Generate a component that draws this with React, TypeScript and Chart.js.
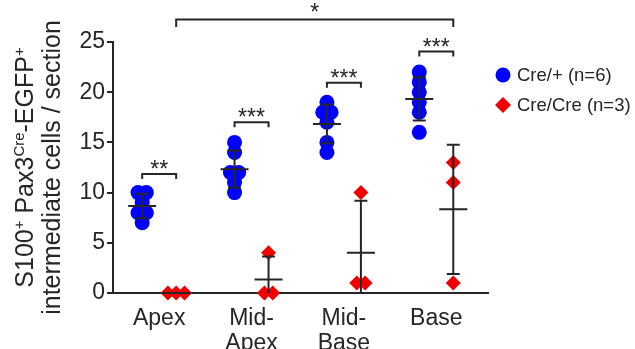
import React, { useEffect, useRef } from 'react';
import { Chart, registerables } from 'chart.js';

Chart.register(...registerables);

// ---------- data ----------
const categories = ['Apex', 'Mid-Apex', 'Mid-Base', 'Base'];
const creHetValues = [
  [10, 10, 9, 8, 8, 7],
  [15, 14, 12, 12, 11, 10],
  [19, 18, 18, 17, 15, 14],
  [22, 21, 20, 19, 18, 16],
];
const creHomValues = [
  [0, 0, 0],
  [4, 0, 0],
  [10, 1, 1],
  [13, 11, 1],
];
const seriesLabels = ['Cre/+ (n=6)', 'Cre/Cre (n=3)'];
const yTicks = [0, 5, 10, 15, 20, 25];
const pairStars = ['**', '***', '***', '***'];
const pairBracketY = [11.85, 17, 20.95, 24.05];
const overallStar = '*';
const overallBracketY = 27.25;
const yTitleLine1 = [
  { t: 'S100', sup: false },
  { t: '+', sup: true },
  { t: ' Pax3', sup: false },
  { t: 'Cre', sup: true },
  { t: '-EGFP', sup: false },
  { t: '+', sup: true },
];
const yTitleLine2 = 'intermediate cells / section';

// ---------- style ----------
const BLUE = 'rgb(0,0,255)';
const RED = 'rgb(240,0,0)';
const INK = '#262626';
const FONT = "'Liberation Sans', Arial, sans-serif";
const GROUP_OFFSET = 0.184;
const SWARM_STEP = 0.09;

function swarm(values: number[], catIndex: number, offset: number) {
  return values.map((v, k) => {
    const same = values.map((w, j) => ({ w, j })).filter((o) => o.w === v);
    const n = same.length;
    const pos = same.findIndex((o) => o.j === k);
    return { x: catIndex + 1 + offset + (pos - (n - 1) / 2) * SWARM_STEP, y: v };
  });
}

function meanSd(values: number[]) {
  const m = values.reduce((a, b) => a + b, 0) / values.length;
  const v = values.reduce((a, b) => a + (b - m) * (b - m), 0) / (values.length - 1);
  return { m, sd: Math.sqrt(v) };
}

const errorBarPlugin = {
  id: 'errorBars',
  afterDatasetsDraw(chart: any) {
    const { ctx, scales } = chart;
    const xs = scales.x, ys = scales.y;
    ctx.save();
    ctx.strokeStyle = INK;
    ctx.lineWidth = 2;
    const groups = [
      { vals: creHetValues, off: -GROUP_OFFSET },
      { vals: creHomValues, off: GROUP_OFFSET },
    ];
    groups.forEach((g) => {
      g.vals.forEach((vals, i) => {
        const { m, sd } = meanSd(vals);
        const px = xs.getPixelForValue(i + 1 + g.off);
        const top = ys.getPixelForValue(m + sd);
        const lowVal = Math.max(m - sd, 0);
        const bot = ys.getPixelForValue(lowVal);
        const pm = ys.getPixelForValue(m);
        ctx.beginPath();
        ctx.moveTo(px, top);
        ctx.lineTo(px, bot);
        ctx.moveTo(px - 14, pm);
        ctx.lineTo(px + 14, pm);
        if (sd > 0) {
          ctx.moveTo(px - 6.5, top);
          ctx.lineTo(px + 6.5, top);
          if (m - sd >= 0) {
            ctx.moveTo(px - 6.5, bot);
            ctx.lineTo(px + 6.5, bot);
          }
        }
        ctx.stroke();
      });
    });
    ctx.restore();
  },
};

const annotationPlugin = {
  id: 'annotations',
  afterDraw(chart: any) {
    const { ctx, scales, chartArea } = chart;
    const xs = scales.x, ys = scales.y;
    ctx.save();
    ctx.strokeStyle = INK;
    ctx.fillStyle = INK;
    ctx.lineWidth = 2;
    // pairwise brackets
    ctx.font = `23px ${FONT}`;
    ctx.textAlign = 'center';
    ctx.textBaseline = 'alphabetic';
    categories.forEach((_, i) => {
      const x1 = xs.getPixelForValue(i + 1 - GROUP_OFFSET);
      const x2 = xs.getPixelForValue(i + 1 + GROUP_OFFSET);
      const y = ys.getPixelForValue(pairBracketY[i]);
      const yl = ys.getPixelForValue(pairBracketY[i] - 0.5);
      ctx.beginPath();
      ctx.moveTo(x1, yl);
      ctx.lineTo(x1, y);
      ctx.lineTo(x2, y);
      ctx.lineTo(x2, yl);
      ctx.stroke();
      ctx.fillText(pairStars[i], (x1 + x2) / 2, y + 3);
    });
    // overall bracket
    {
      const x1 = xs.getPixelForValue(1 + GROUP_OFFSET);
      const x2 = xs.getPixelForValue(categories.length + GROUP_OFFSET);
      const y = ys.getPixelForValue(overallBracketY);
      const yl = ys.getPixelForValue(overallBracketY - 0.75);
      ctx.beginPath();
      ctx.moveTo(x1, yl);
      ctx.lineTo(x1, y);
      ctx.lineTo(x2, y);
      ctx.lineTo(x2, yl);
      ctx.stroke();
      ctx.fillText(overallStar, (x1 + x2) / 2, y + 1);
    }
    // legend
    const lx = chartArea.right + 15;
    ctx.textAlign = 'left';
    ctx.textBaseline = 'middle';
    ctx.font = `18.5px ${FONT}`;
    ctx.fillStyle = BLUE;
    ctx.beginPath();
    ctx.arc(lx, 75, 7.5, 0, Math.PI * 2);
    ctx.fill();
    ctx.fillStyle = RED;
    ctx.beginPath();
    ctx.moveTo(lx, 105 - 8);
    ctx.lineTo(lx + 8, 105);
    ctx.lineTo(lx, 105 + 8);
    ctx.lineTo(lx - 8, 105);
    ctx.closePath();
    ctx.fill();
    ctx.fillStyle = INK;
    ctx.fillText(seriesLabels[0], lx + 14, 76);
    ctx.fillText(seriesLabels[1], lx + 14, 106);

    // y title
    const cy = (chartArea.top + chartArea.bottom) / 2;
    const main = 25, sup = 15;
    const segW = (s: { t: string; sup: boolean }) => {
      ctx.font = `${s.sup ? sup : main}px ${FONT}`;
      return ctx.measureText(s.t).width;
    };
    const total1 = yTitleLine1.reduce((a, s) => a + segW(s), 0);
    ctx.save();
    ctx.translate(33, cy);
    ctx.rotate(-Math.PI / 2);
    ctx.textBaseline = 'alphabetic';
    ctx.textAlign = 'left';
    let cx = -total1 / 2;
    yTitleLine1.forEach((s) => {
      const w = segW(s);
      ctx.font = `${s.sup ? sup : main}px ${FONT}`;
      ctx.fillText(s.t, cx, s.sup ? -9 : 0);
      cx += w;
    });
    ctx.restore();
    ctx.save();
    ctx.translate(60, cy);
    ctx.rotate(-Math.PI / 2);
    ctx.font = `${main}px ${FONT}`;
    ctx.textAlign = 'center';
    ctx.textBaseline = 'alphabetic';
    ctx.fillText(yTitleLine2, 0, 0);
    ctx.restore();

    ctx.restore();
  },
};

export default function App() {
  const ref = useRef<HTMLCanvasElement | null>(null);
  useEffect(() => {
    document.body.style.margin = '0';
    const canvas = ref.current;
    if (!canvas) return;
    const blueData = creHetValues.flatMap((vals, i) => swarm(vals, i, -GROUP_OFFSET));
    const redData = creHomValues.flatMap((vals, i) => swarm(vals, i, GROUP_OFFSET));
    const chart = new Chart(canvas, {
      type: 'scatter',
      data: {
        datasets: [
          {
            label: seriesLabels[0],
            data: blueData,
            backgroundColor: BLUE,
            borderColor: BLUE,
            borderWidth: 0,
            pointRadius: 7.5,
            pointStyle: 'circle',
            clip: false as any,
          },
          {
            label: seriesLabels[1],
            data: redData,
            backgroundColor: RED,
            borderColor: RED,
            borderWidth: 0,
            pointRadius: 7.5,
            pointStyle: 'rectRot',
            clip: false as any,
          },
        ],
      },
      options: {
        responsive: false,
        animation: false,
        layout: { padding: { top: 42, right: 147, left: 0, bottom: 0 } },
        plugins: { legend: { display: false }, tooltip: { enabled: false } },
        scales: {
          x: {
            type: 'linear',
            min: 0.5,
            max: 4.56,
            afterBuildTicks: (s: any) => {
              s.ticks = categories.map((_, i) => ({ value: i + 1 }));
            },
            afterFit: (s: any) => {
              s.height = 56;
            },
            grid: { display: false, drawTicks: false },
            border: { display: true, color: INK, width: 2 },
            ticks: {
              autoSkip: false,
              maxRotation: 0,
              padding: 14,
              color: INK,
              font: { size: 23, family: FONT, lineHeight: 1.05 },
              callback: (v: any) => {
                const c = categories[Math.round(Number(v)) - 1];
                return c ? c.split(/(?<=-)/) : '';
              },
            },
          },
          y: {
            type: 'linear',
            min: yTicks[0],
            max: yTicks[yTicks.length - 1],
            afterBuildTicks: (s: any) => {
              s.ticks = yTicks.map((v) => ({ value: v }));
            },
            afterFit: (s: any) => {
              s.width = 113;
            },
            grid: { display: true, drawOnChartArea: false, drawTicks: true, tickLength: 6, color: INK, lineWidth: 2 },
            border: { display: true, color: INK, width: 2 },
            ticks: { padding: 2, color: INK, font: { size: 23, family: FONT } },
          },
        },
      },
      plugins: [errorBarPlugin, annotationPlugin],
    } as any);
    return () => chart.destroy();
  }, []);
  return (
    <div style={{ width: 635, height: 349 }}>
      <canvas ref={ref} width={635} height={349} style={{ display: 'block', width: 635, height: 349 }} />
    </div>
  );
}
